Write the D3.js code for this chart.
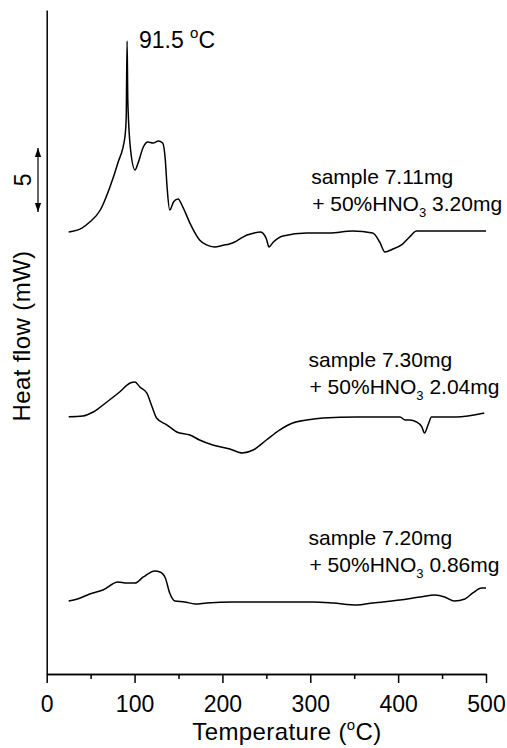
<html>
    <head>
        <title>DSC curves</title>
        <meta charset="utf8">
        <style>
            body { margin: 0; background: #fff; }
            svg text { font-family: "Liberation Sans", Arial, sans-serif; fill: #000; }
            .curve { fill: none; stroke: #000; stroke-width: 1.5px; }
            .axis path, .axis line { stroke: #000; stroke-width: 1.5px; }
        </style>
    </head>
    <body>
        <svg width="507" height="748"></svg>

        <script src="https://d3js.org/d3.v7.min.js"></script>
        <script>
            // temperature (oC) and heat flow (mW, stacked offsets)
            var temp1 = [25, 40, 49, 61, 72, 81, 89, 90.5, 91.5, 92.3, 95.5, 100.5, 104, 110, 115, 121, 127, 132, 135, 137, 140,
                         144.5, 149.5, 155, 163, 174, 182, 191, 201, 208, 214, 220, 228, 236, 243, 246, 250, 253, 258, 269, 296, 322,
                         348, 371, 379, 385, 394, 405, 413, 421, 447, 500];
            var flow1 = [34.53, 34.84, 35.31, 36.25, 38.05, 39.92, 41.95, 43.5, 49.45, 44.84, 40.94, 39.38, 39.92, 41.17, 41.56, 41.48, 41.64, 41.48, 40.16, 38.05, 36.25,
                         36.9, 37.11, 36.48, 35.23, 33.91, 33.52, 33.36, 33.5, 33.6, 33.75, 34.0, 34.3, 34.45, 34.53, 34.45, 34.0, 33.36, 33.75, 34.22, 34.45, 34.45,
                         34.61, 34.45, 33.75, 32.97, 33.2, 33.59, 34.14, 34.61, 34.61, 34.61];

            var temp2 = [25, 41, 53, 68.5, 83, 95, 100.5, 106, 114, 120, 125, 137, 148, 163, 174, 189, 208.5, 223, 235, 250,
                         265, 280, 296, 314.5, 353, 402, 408, 413, 421, 427, 430, 434, 438, 466, 498];
            var flow2 = [20.1, 20.16, 20.47, 21.25, 22.03, 22.73, 22.81, 22.42, 21.95, 20.86, 20.0, 19.45, 18.91, 18.67, 18.28, 17.89, 17.58, 17.27, 17.5, 18.28,
                         19.06, 19.61, 19.84, 20.0, 20.08, 20.08, 19.84, 19.84, 19.69, 19.3, 18.83, 19.45, 20.08, 20.08, 20.39];

            var temp3 = [25, 35, 49, 64, 81, 91, 100.5, 110, 123, 129, 135, 140, 146, 157, 169, 182, 212, 258, 303, 326,
                         353, 371, 402, 425, 442, 453, 464, 476, 485, 495, 500];
            var flow3 = [5.7, 5.86, 6.25, 6.56, 7.19, 7.11, 7.11, 7.58, 8.05, 7.97, 7.5, 6.33, 5.7, 5.63, 5.47, 5.55, 5.63, 5.63, 5.63, 5.55,
                         5.39, 5.55, 5.78, 6.02, 6.17, 6.02, 5.7, 5.86, 6.33, 6.72, 6.72];

            var majorTicks = [0, 100, 200, 300, 400, 500];
            var minorTicks = [50, 150, 250, 350, 450];

            var labels = [
                {line1: "sample 7.11mg", mass: "3.20mg", at: [301, 38.3]},
                {line1: "sample 7.30mg", mass: "2.04mg", at: [298, 24.0]},
                {line1: "sample 7.20mg", mass: "0.86mg", at: [298, 10.1]}
            ];
            var peakLabel = {temp: 91.5, at: [105, 48.9]};
            var scaleBar = {from: 36.1, size: 5};
        </script>

        <script>
            var svg = d3.select("svg"),
                margin = {top: 10, right: 21, bottom: 74, left: 46.7},
                width = +svg.attr("width") - margin.left - margin.right,
                height = +svg.attr("height") - margin.top - margin.bottom;

            var g = svg.append("g").attr("transform", "translate(" + margin.left + "," + margin.top + ")");

            var x = d3.scaleLinear().domain([0, 500]).range([0, width]);
            var y = d3.scaleLinear().domain([0, height / 12.8]).range([height, 0]);

            // minor ticks first, then major ticks with labels
            g.append("g")
                .attr("class", "axis")
                .attr("transform", "translate(0," + height + ")")
                .call(d3.axisBottom(x).tickValues(minorTicks).tickSize(5).tickSizeOuter(0).tickFormat(""));

            var xAxis = g.append("g")
                .attr("class", "axis")
                .attr("transform", "translate(0," + height + ")")
                .call(d3.axisBottom(x).tickValues(majorTicks).tickSize(9).tickSizeOuter(0));
            xAxis.selectAll("text")
                .attr("y", 38).attr("dy", 0)
                .style("font-size", "23px")
                .style("font-family", "'Liberation Sans', Arial, sans-serif");

            g.append("g")
                .attr("class", "axis")
                .call(d3.axisLeft(y).tickValues([]).tickSizeOuter(0));

            var title = svg.append("text")
                .attr("x", 287)
                .attr("y", 740)
                .attr("text-anchor", "middle")
                .style("font-size", "24px")
                .style("letter-spacing", "0.4px");
            title.append("tspan").text("Temperature (");
            title.append("tspan").attr("dy", -10).style("font-size", "15px").text("o");
            title.append("tspan").attr("dy", 10).text("C)");

            svg.append("text")
                .attr("transform", "translate(30,336) rotate(-90)")
                .attr("text-anchor", "middle")
                .style("font-size", "24px")
                .style("letter-spacing", "0.4px")
                .text("Heat flow (mW)");

            var line = d3.line()
                .x(function(d) { return x(d[0]); })
                .y(function(d) { return y(d[1]); })
                .curve(d3.curveMonotoneX);

            [[temp1, flow1], [temp2, flow2], [temp3, flow3]].forEach(function(s) {
                g.append("path")
                    .attr("class", "curve")
                    .attr("d", line(d3.zip(s[0], s[1])));
            });

            // sample labels, two lines each
            labels.forEach(function(l) {
                g.append("text")
                    .attr("x", x(l.at[0]))
                    .attr("y", y(l.at[1]))
                    .style("font-size", "21px")
                    .text(l.line1);
                var t2 = g.append("text")
                    .attr("x", x(l.at[0]) + 1)
                    .attr("y", y(l.at[1]) + 27)
                    .style("font-size", "21px");
                t2.append("tspan").text("+ 50%HNO");
                t2.append("tspan").attr("dy", 6).style("font-size", "13px").text("3");
                t2.append("tspan").attr("dy", -6).text(" " + l.mass);
            });

            // peak label
            var pk = g.append("text")
                .attr("x", x(peakLabel.at[0]))
                .attr("y", y(peakLabel.at[1]))
                .style("font-size", "23px");
            pk.append("tspan").text(peakLabel.temp + " ");
            pk.append("tspan").attr("dy", -10).style("font-size", "15px").text("o");
            pk.append("tspan").attr("dy", 10).text("C");

            // 5 mW scale bar
            svg.append("defs").append("marker")
                .attr("id", "head")
                .attr("viewBox", "0 0 10 10")
                .attr("refX", 10).attr("refY", 5)
                .attr("markerWidth", 9).attr("markerHeight", 9)
                .attr("markerUnits", "userSpaceOnUse")
                .attr("orient", "auto-start-reverse")
                .append("path").attr("d", "M0,1.5 L10,5 L0,8.5 Z").attr("fill", "#000");

            g.append("line")
                .attr("x1", -8.7).attr("x2", -8.7)
                .attr("y1", y(scaleBar.from)).attr("y2", y(scaleBar.from + scaleBar.size))
                .attr("stroke", "#000").attr("stroke-width", 1.2)
                .attr("marker-start", "url(#head)")
                .attr("marker-end", "url(#head)");

            g.append("text")
                .attr("transform", "translate(-16," + y(scaleBar.from + scaleBar.size / 2) + ") rotate(-90)")
                .attr("text-anchor", "middle")
                .style("font-size", "23px")
                .text(scaleBar.size);
        </script>
    </body>
</html>
